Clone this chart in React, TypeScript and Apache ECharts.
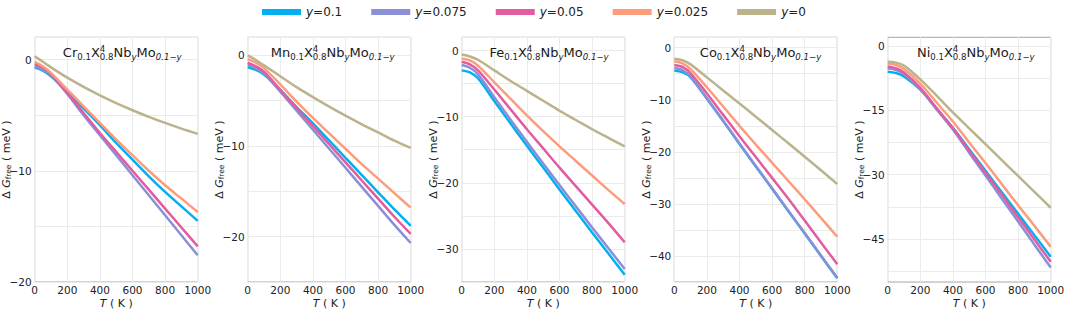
import React, { useEffect, useRef } from "react";
import * as echarts from "echarts";

// ---------- data ----------
const temperatures = [0, 50, 100, 200, 300, 400, 500, 600, 700, 800, 900, 1000];
const seriesNames = ["y=0.1", "y=0.075", "y=0.05", "y=0.025", "y=0"];
const seriesColors = ["#00b0f0", "#8b8fd5", "#e25c9f", "#fc9c7c", "#bbb38b"];
const elements = ["Cr", "Mn", "Fe", "Co", "Ni"];

const crY0100 = [-0.7, -1.0, -1.5, -2.9, -4.4, -5.9, -7.5, -9.0, -10.5, -11.9, -13.2, -14.5];
const crY0075 = [-0.6, -0.9, -1.4, -3.1, -5.0, -6.8, -8.6, -10.4, -12.2, -14.0, -15.8, -17.6];
const crY0050 = [-0.4, -0.7, -1.3, -3.0, -4.8, -6.6, -8.3, -10.0, -11.7, -13.4, -15.1, -16.8];
const crY0025 = [-0.2, -0.6, -1.2, -2.7, -4.2, -5.7, -7.2, -8.6, -10.0, -11.3, -12.5, -13.7];
const crY0000 = [0.3, -0.2, -0.7, -1.63, -2.46, -3.22, -3.92, -4.56, -5.15, -5.7, -6.21, -6.68];

const mnY0100 = [-1.3, -1.6, -2.1, -3.8, -5.7, -7.5, -9.4, -11.3, -13.2, -15.1, -17.0, -18.8];
const mnY0075 = [-1.0, -1.4, -2.0, -4.0, -6.1, -8.2, -10.3, -12.4, -14.5, -16.6, -18.7, -20.7];
const mnY0050 = [-0.8, -1.2, -1.8, -3.8, -5.8, -7.8, -9.8, -11.8, -13.8, -15.8, -17.8, -19.7];
const mnY0025 = [-0.4, -0.8, -1.4, -3.2, -5.1, -6.9, -8.6, -10.3, -12.0, -13.6, -15.2, -16.8];
const mnY0000 = [0.0, -0.5, -1.1, -2.3, -3.5, -4.6, -5.65, -6.65, -7.6, -8.5, -9.4, -10.2];

const feY0100 = [-3.0, -3.3, -4.2, -7.65, -11.05, -14.4, -17.7, -21.0, -24.25, -27.5, -30.7, -33.9];
const feY0075 = [-2.2, -2.6, -3.6, -7.05, -10.45, -13.8, -17.1, -20.35, -23.55, -26.75, -29.9, -33.05];
const feY0050 = [-1.7, -2.1, -3.0, -5.9, -8.9, -11.9, -14.8, -17.7, -20.5, -23.3, -26.1, -29.0];
const feY0025 = [-1.2, -1.5, -2.3, -4.8, -7.3, -9.8, -12.2, -14.5, -16.7, -18.9, -21.1, -23.2];
const feY0000 = [-0.6, -0.9, -1.4, -3.0, -4.6, -6.1, -7.6, -9.1, -10.5, -11.9, -13.2, -14.5];

const coY0100 = [-4.4, -4.7, -5.7, -9.8, -14.1, -18.5, -22.8, -27.1, -31.4, -35.7, -40.0, -44.3];
const coY0075 = [-3.9, -4.3, -5.5, -9.7, -14.0, -18.4, -22.7, -27.0, -31.3, -35.6, -39.9, -44.2];
const coY0050 = [-3.3, -3.7, -4.9, -8.8, -12.9, -17.0, -21.0, -25.0, -29.0, -33.2, -37.4, -41.6];
const coY0025 = [-2.6, -3.0, -4.1, -7.6, -11.3, -15.0, -18.6, -22.1, -25.6, -29.1, -32.7, -36.3];
const coY0000 = [-2.1, -2.4, -3.2, -5.7, -8.2, -10.7, -13.25, -15.8, -18.35, -20.95, -23.55, -26.2];

const niY0100 = [-6.0, -6.3, -7.1, -10.2, -14.6, -19.1, -24.1, -29.1, -34.1, -39.1, -44.1, -49.1];
const niY0075 = [-5.2, -5.6, -6.6, -10.1, -14.8, -19.5, -24.9, -30.2, -35.6, -40.9, -46.3, -51.6];
const niY0050 = [-4.8, -5.2, -6.2, -9.8, -14.5, -19.2, -24.4, -29.5, -34.7, -39.9, -45.1, -50.3];
const niY0025 = [-4.1, -4.4, -5.4, -8.8, -13.2, -17.6, -22.5, -27.3, -32.2, -37.1, -41.9, -46.8];
const niY0000 = [-3.7, -3.9, -4.6, -7.8, -11.6, -15.5, -19.2, -22.9, -26.6, -30.3, -34.0, -37.7];

const panelData = [
  [crY0100, crY0075, crY0050, crY0025, crY0000],
  [mnY0100, mnY0075, mnY0050, mnY0025, mnY0000],
  [feY0100, feY0075, feY0050, feY0025, feY0000],
  [coY0100, coY0075, coY0050, coY0025, coY0000],
  [niY0100, niY0075, niY0050, niY0025, niY0000],
];

// axis ranges / ticks
const yMins = [-20, -25, -35, -45, -55];
const yMax = 2;
const yLabelSteps = [10, 10, 10, 10, 15];
const yGridSteps = [5, 5, 5, 5, 7.5];
const yTickSteps = [5, 5, 5, 5, 2.5];
const xTicks = { min: 0, max: 1000, step: 200 };

// ---------- layout ----------
const FONT = "DejaVu Sans";
const gridLefts = [34.7, 247.7, 461.7, 674.3, 887.7];
const gridWidth = 163;
const gridTop = 37.3;
const gridHeight = 244.7;

let measureCtx: CanvasRenderingContext2D | null = null;
function measure(text: string, size: number, italic: boolean) {
  if (!measureCtx) measureCtx = document.createElement("canvas").getContext("2d");
  measureCtx!.font = `${italic ? "italic " : ""}${size}px "${FONT}"`;
  return measureCtx!.measureText(text).width;
}

function buildTitle(el: string, rightX: number, baseline: number) {
  const M = 13;
  const S = 8.6;
  const SUB = 2.7;
  const SUP = -5.6;
  type Tok = { t: string; size: number; it?: boolean; dy: number; noAdv?: boolean };
  const toks: Tok[] = [
    { t: el, size: M, dy: 0 },
    { t: "0.1", size: S, dy: SUB },
    { t: "X", size: M, dy: 0 },
    { t: "4", size: S, dy: SUP, noAdv: true },
    { t: "0.8", size: S, dy: SUB },
    { t: "Nb", size: M, dy: 0 },
    { t: "y", size: S, it: true, dy: SUB },
    { t: "Mo", size: M, dy: 0 },
    { t: "0.1\u2212y", size: S, it: true, dy: SUB },
  ];
  let total = 0;
  const widths = toks.map((k) => measure(k.t, k.size, !!k.it));
  toks.forEach((k, i) => {
    if (!k.noAdv) total += widths[i];
  });
  let x = rightX - total;
  const out: any[] = [];
  toks.forEach((k, i) => {
    out.push({
      type: "text",
      x,
      y: baseline + k.dy - 0.346 * k.size,
      silent: true,
      z: 10,
      style: {
        text: k.t,
        fontSize: k.size,
        fontFamily: FONT,
        fontStyle: k.it ? "italic" : "normal",
        fill: "#1a1a1a",
        align: "left",
        verticalAlign: "middle",
        textAlign: "left",
        textVerticalAlign: "middle",
      },
    });
    if (!k.noAdv) x += widths[i];
  });
  return out;
}

function fmtNum(v: number) {
  return v < 0 ? "\u2212" + Math.abs(v) : String(v);
}

function isMultiple(v: number, step: number) {
  const r = Math.abs(v / step - Math.round(v / step));
  return r < 1e-6;
}

export default function App() {
  const ref = useRef<HTMLDivElement>(null);
  useEffect(() => {
    document.body.style.margin = "0";
    if (!ref.current) return;
    const chart = echarts.init(ref.current, undefined, { renderer: "svg" });

    const grids = gridLefts.map((l) => ({
      left: l,
      top: gridTop,
      width: gridWidth,
      height: gridHeight,
      show: true,
      borderColor: "#a6a6a6",
      borderWidth: 1,
      backgroundColor: "transparent",
      containLabel: false,
      outerBoundsMode: "none",
    }));

    const xAxes = gridLefts.map((_, i) => ({
      type: "value",
      gridIndex: i,
      min: xTicks.min,
      max: xTicks.max,
      interval: xTicks.step,
      axisLine: { show: false },
      axisTick: { show: false },
      axisLabel: {
        fontSize: 10.5,
        fontFamily: FONT,
        color: "#222",
        margin: 2.5,
        formatter: (v: number) => String(v),
      },
      splitLine: { show: true, lineStyle: { color: "#ebebeb", width: 1 } },
      name: "{i|T} ( K )",
      nameLocation: "middle",
      nameGap: 16,
      nameMoveOverlap: false,
      nameTextStyle: {
        fontSize: 11,
        fontFamily: FONT,
        color: "#222",
        rich: {
          i: { fontSize: 11, fontFamily: FONT, fontStyle: "italic", color: "#222" },
        },
      },
    }));

    const yAxes = gridLefts.map((_, i) => {
      const n = Math.round(yGridSteps[i] / yTickSteps[i]);
      const colors: string[] = [];
      for (let k = 0; k < n; k++) {
        const v = yMins[i] + k * yTickSteps[i];
        colors.push(isMultiple(v, yGridSteps[i]) ? "#ebebeb" : "rgba(0,0,0,0)");
      }
      return {
        type: "value",
        gridIndex: i,
        min: yMins[i],
        max: yMax,
        interval: yTickSteps[i],
        axisLine: { show: false },
        axisTick: { show: false },
        axisLabel: {
          fontSize: 10.5,
          fontFamily: FONT,
          color: "#222",
          margin: 3,
          formatter: (v: number) => (v <= 0 && isMultiple(v, yLabelSteps[i]) ? fmtNum(v) : ""),
        },
        splitLine: { show: true, lineStyle: { color: colors, width: 1 } },
        name: "{n|\u0394 }{i|G}{s|free}{n| ( meV )}",
        nameLocation: "middle",
        nameRotate: 90,
        nameGap: 22,
        nameMoveOverlap: false,
        nameTextStyle: {
          fontSize: 11,
          fontFamily: FONT,
          color: "#222",
          lineHeight: 12,
          rich: {
            n: { fontSize: 11, fontFamily: FONT, color: "#222", lineHeight: 12 },
            i: { fontSize: 11, fontFamily: FONT, fontStyle: "italic", color: "#222", lineHeight: 12 },
            s: { fontSize: 7.5, fontFamily: FONT, color: "#222", verticalAlign: "bottom", lineHeight: 12 },
          },
        },
      };
    });

    const series: any[] = [];
    panelData.forEach((group, p) => {
      group.forEach((vals, s) => {
        series.push({
          type: "line",
          name: seriesNames[s],
          xAxisIndex: p,
          yAxisIndex: p,
          data: temperatures.map((t, k) => [t, vals[k]]),
          showSymbol: false,
          symbol: "none",
          smooth: 0.3,
          silent: true,
          lineStyle: { width: 2.5, color: seriesColors[s] },
          itemStyle: { color: seriesColors[s] },
          emphasis: { disabled: true },
          z: 3,
        });
      });
    });

    const graphics: any[] = [];
    elements.forEach((el, i) => {
      graphics.push(...buildTitle(el, gridLefts[i] + gridWidth - 16, gridTop + 20));
    });

    chart.setOption({
      animation: false,
      backgroundColor: "#ffffff",
      textStyle: { fontFamily: FONT },
      legend: {
        data: seriesNames,
        left: 257,
        top: 1,
        itemWidth: 39,
        itemHeight: 6,
        itemGap: 29,
        icon: "rect",
        selectedMode: false,
        formatter: (name: string) => "{i|y}" + name.slice(1),
        textStyle: {
          fontSize: 12,
          fontFamily: FONT,
          color: "#222",
          rich: {
            i: { fontSize: 12, fontFamily: FONT, fontStyle: "italic", color: "#222" },
          },
        },
      },
      grid: grids,
      xAxis: xAxes,
      yAxis: yAxes,
      series,
      graphic: { elements: graphics },
    });

    return () => chart.dispose();
  }, []);
  return <div ref={ref} style={{ width: 1065, height: 310 }} />;
}
